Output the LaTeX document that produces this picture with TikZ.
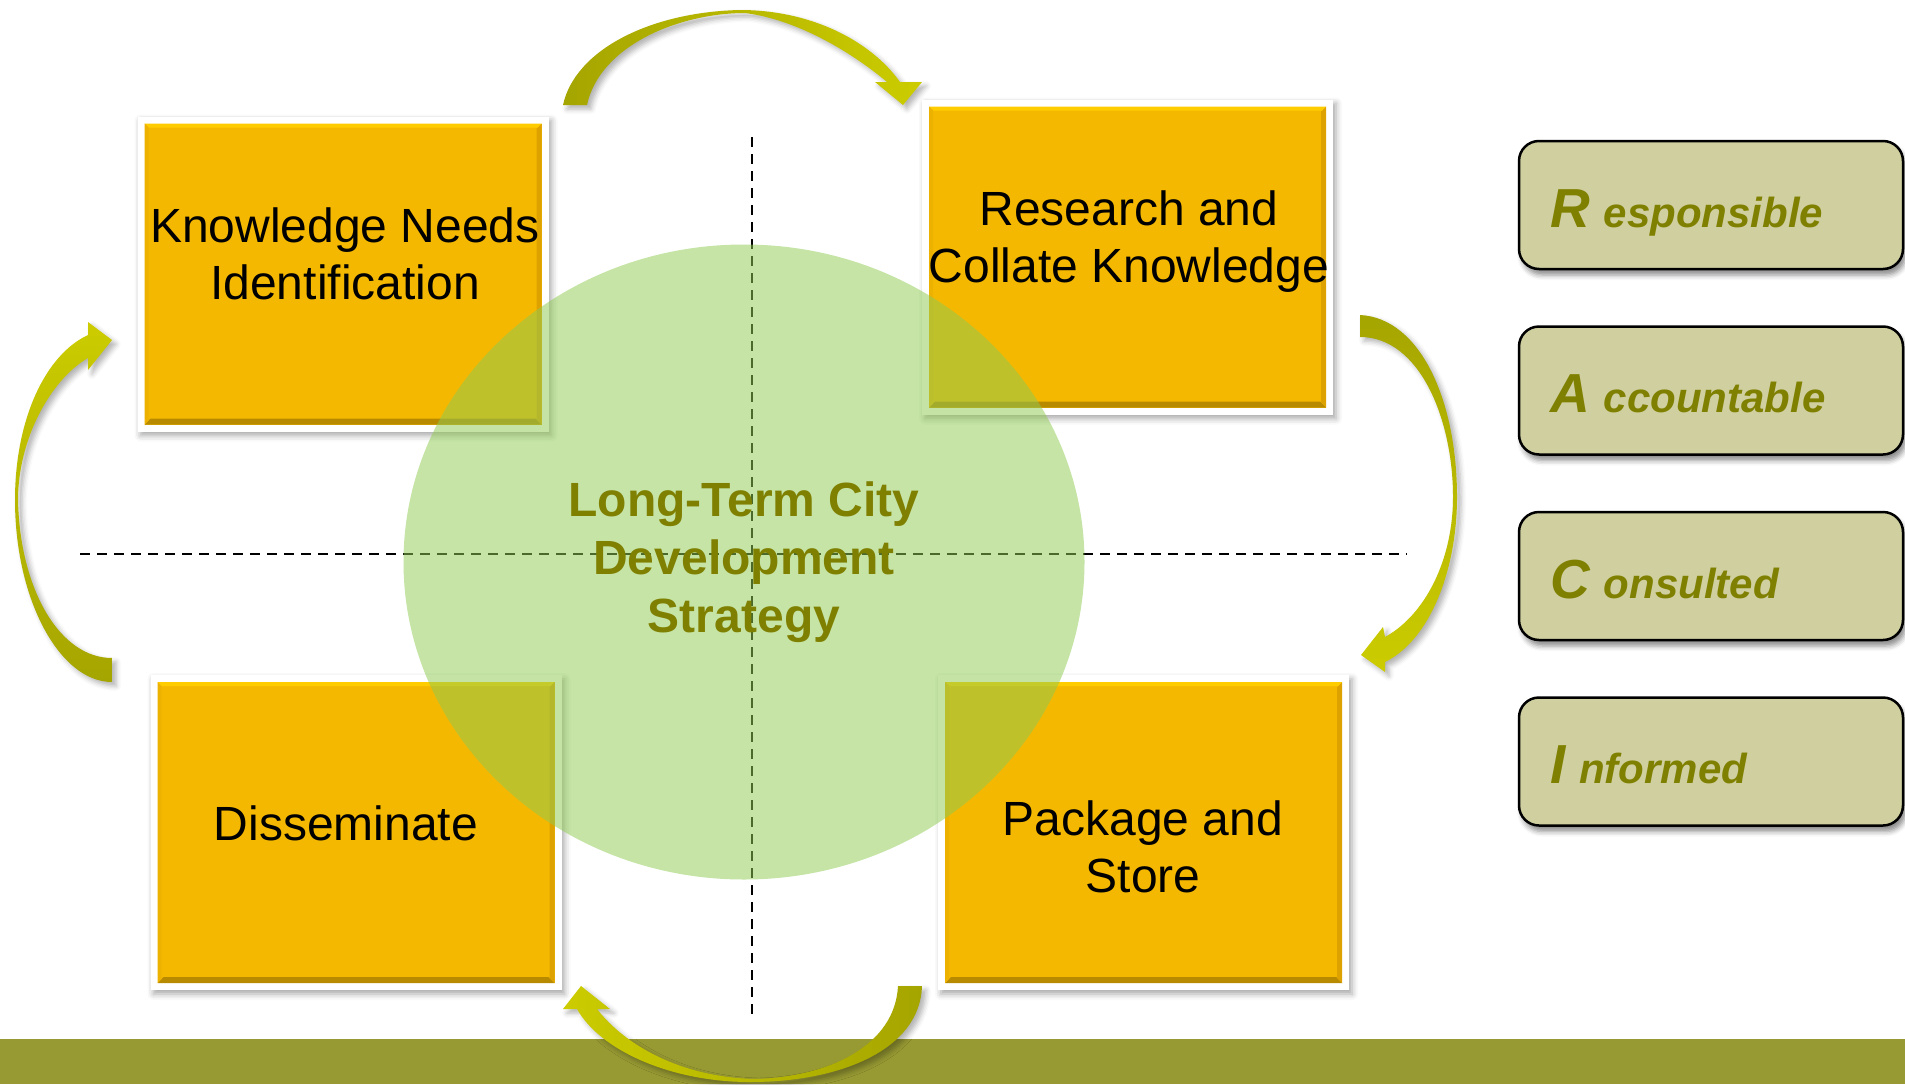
\documentclass[tikz,border=0pt]{standalone}
\usepackage{fontspec}
\setmainfont{Liberation Sans}
\usetikzlibrary{positioning,shapes.geometric,shadows.blur}

\definecolor{cardorange}{HTML}{F5B800}
\definecolor{bevtop}{HTML}{FFCC00}
\definecolor{bevbot}{HTML}{B88A00}
\definecolor{bevright}{HTML}{DDA200}
\definecolor{bevleft}{HTML}{EDB200}
\definecolor{leaf}{RGB}{143,203,83}
\definecolor{olivetext}{HTML}{808000}
\definecolor{racifill}{HTML}{CFCFA0}
\definecolor{band}{HTML}{979933}
\definecolor{arrowdark}{HTML}{A5A500}
\definecolor{arrowlight}{HTML}{CCCC00}

\newcommand\boxfont{\fontsize{48}{57}\selectfont}
\newcommand\leaffont{\fontsize{48}{58}\selectfont\bfseries}
\newcommand\racifont{\fontsize{42}{48}\selectfont\bfseries\itshape}
\newcommand\bigletter[1]{{\fontsize{55}{55}\selectfont #1 }}
\newcommand\bevel{%
	\path (path picture bounding box.south west) coordinate (sw)
	      (path picture bounding box.south east) coordinate (se)
	      (path picture bounding box.north east) coordinate (ne)
	      (path picture bounding box.north west) coordinate (nw);
	\fill[cardorange] ([shift={(7,-7)}]sw) rectangle ([shift={(-7,7)}]ne);
	\fill[bevbot] ([shift={(7,-7)}]sw) -- ([shift={(-7,-7)}]se) -- ([shift={(-13,-13)}]se) -- ([shift={(13,-13)}]sw) -- cycle;
	\fill[bevright] ([shift={(-7,-7)}]se) -- ([shift={(-7,7)}]ne) -- ([shift={(-12,12)}]ne) -- ([shift={(-12,-12)}]se) -- cycle;
	\fill[bevtop] ([shift={(-7,7)}]ne) -- ([shift={(7,7)}]nw) -- ([shift={(11,11)}]nw) -- ([shift={(-11,11)}]ne) -- cycle;
	\fill[bevleft] ([shift={(7,7)}]nw) -- ([shift={(7,-7)}]sw) -- ([shift={(11,-11)}]sw) -- ([shift={(11,11)}]nw) -- cycle;
}

\tikzset{
	card/.style = {rectangle, fill=white, inner sep=0pt, minimum width=411pt, minimum height=315pt,
		blur shadow={shadow xshift=3pt, shadow yshift=-4pt, shadow blur radius=6pt, shadow opacity=35},
		path picture={\bevel}},
	cardtext/.style = {font=\boxfont, align=center, text=black},
	raci/.style = {rectangle, rounded corners=20pt, draw=black, line width=2.5pt, fill=racifill,
		minimum height=128pt, text width=322pt, inner xsep=31pt, text height=50pt, text depth=6pt,
		align=left, font=\racifont, text=olivetext,
		blur shadow={shadow xshift=3pt, shadow yshift=-6pt, shadow blur radius=5pt, shadow opacity=45}},
	axisline/.style = {draw=black, line width=2pt, dash pattern=on 10pt off 7pt},
	cyclearrow/.style = {blur shadow={shadow xshift=4pt, shadow yshift=-4pt, shadow blur radius=5pt, shadow opacity=30}}
}

\begin{document}
\begin{tikzpicture}[x=1pt, y=-1pt, node distance=55pt]
	\useasboundingbox (0,0) rectangle (1905,1084);
	\fill[band] (0,1039) rectangle (1905,1084);

	% cycle arrows
	\shade[cyclearrow, left color=arrowdark, right color=arrowlight]
		(563,105) .. controls (575,50) and (650,12) .. (740,10)
		.. controls (810,10) and (870,40) .. (900,82) -- (922,82) -- (903,105) -- (875,82) -- (887,82)
		.. controls (855,55) and (800,20) .. (745,13)
		.. controls (680,13) and (600,45) .. (587,105) -- cycle;
	\shade[cyclearrow, top color=arrowdark, bottom color=arrowlight]
		(1360,315) .. controls (1420,318) and (1457,400) .. (1457,497)
		.. controls (1457,570) and (1430,640) .. (1385,662) -- (1385,672) -- (1361,655) -- (1383,627) -- (1385,637)
		.. controls (1425,615) and (1453,560) .. (1453,497)
		.. controls (1453,420) and (1420,337) .. (1360,337) -- cycle;
	\shade[cyclearrow, left color=arrowlight, right color=arrowdark]
		(922,986) .. controls (920,1050) and (840,1082) .. (750,1082)
		.. controls (670,1082) and (600,1050) .. (577,1009) -- (563,1009) -- (581,986) -- (610,1009) -- (597,1009)
		.. controls (625,1045) and (680,1077) .. (755,1079)
		.. controls (830,1077) and (895,1045) .. (898,986) -- cycle;
	\shade[cyclearrow, top color=arrowlight, bottom color=arrowdark]
		(112,682) .. controls (60,682) and (15,600) .. (15,500)
		.. controls (15,420) and (45,355) .. (88,335) -- (88,322) -- (112,340) -- (88,370) -- (88,358)
		.. controls (50,380) and (18,440) .. (18,500)
		.. controls (20,590) and (60,658) .. (112,658) -- cycle;

	% the four steps
	\node[card] (kni) at (343,274) {};
	\node[card] (rac) at (1127.5,257) {};
	\node[card] (dis) at (356,832.5) {};
	\node[card] (pas) at (1143.5,832.5) {};
	\node[cardtext] (knitext) at (345,253.5) {Knowledge Needs\\Identification};
	\node[cardtext] (ractext) at (1129,241.5) {Research and\\Collate Knowledge};
	\node[cardtext] (distext) at (346,823) {Disseminate};
	\node[cardtext] (pastext) at (1143,846.5) {Package and\\Store};

	% axes
	\coordinate (axl) at (80,554);
	\coordinate (axr) at (1407,554);
	\coordinate (axt) at (752,137);
	\coordinate (axb) at (752,1016);
	\draw[axisline] (axl) -- (axr);
	\draw[axisline] (axt) -- (axb);

	\node[ellipse, inner sep=0pt, minimum width=681pt, minimum height=635pt,
		fill=leaf, fill opacity=0.52, text opacity=1, text=olivetext, font=\leaffont, align=center]
		(ltcds) at (744,562) {Long-Term City\\Development\\Strategy};

	% RACI
	\node[raci] (r) at (1711,205) {\bigletter{R}esponsible};
	\node[raci, below=of r] (a) {\bigletter{A}ccountable};
	\node[raci, below=of a] (c) {\bigletter{C}onsulted};
	\node[raci, below=of c] (i) {\bigletter{I}nformed};
\end{tikzpicture}
\end{document}
